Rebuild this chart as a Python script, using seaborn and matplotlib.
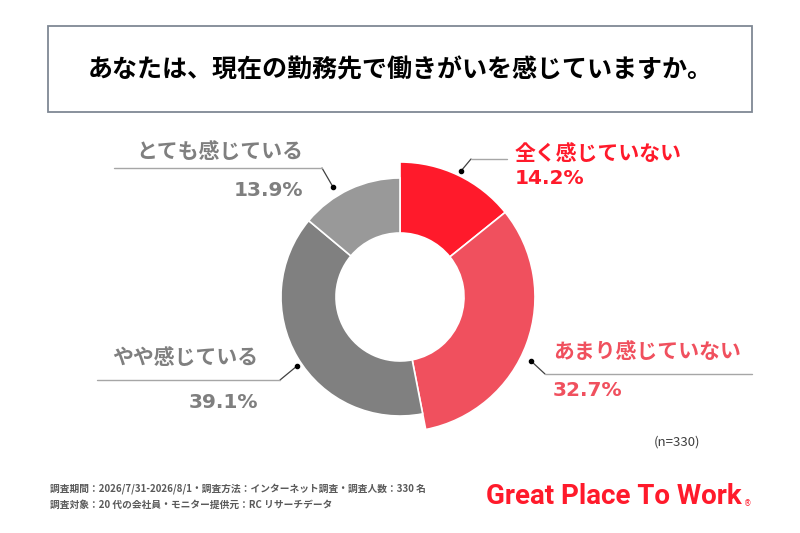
import matplotlib
matplotlib.use("Agg")
import matplotlib.pyplot as plt
import seaborn as sns
from matplotlib.patches import Rectangle

# data
categories = ["全く感じていない", "あまり感じていない", "やや感じている", "とても感じている"]
shares = [14.2, 32.7, 39.1, 13.9]
pct_labels = ["14.2%", "32.7%", "39.1%", "13.9%"]
title = "あなたは、現在の勤務先で働きがいを感じていますか。"
sample_note = "(n=330)"
footnotes = [
    "調査期間：2026/7/31-2026/8/1・調査方法：インターネット調査・調査人数：330 名",
    "調査対象：20 代の会社員・モニター提供元：RC リサーチデータ",
]
logo = "Great Place To Work"

sns.set_theme(style="white")
plt.rcParams['font.family'] = ['Noto Sans CJK JP', 'DejaVu Sans']

W, H = 800, 533
wedge_colors = ['#FF1A2B', '#F0505E', '#808080', '#999999']
text_colors = ['#FF1A2B', '#F0505E', '#7F7F7F', '#7F7F7F']

fig = plt.figure(figsize=(8, 5.33), dpi=100)
ax = fig.add_axes([0, 0, 1, 1])

def Y(y):
    return H - y

# donut: red wedges stand out further than gray ones
cx, cy = 400, Y(297)
wedges, _ = ax.pie(shares, colors=wedge_colors, startangle=90, counterclock=False,
                   center=(cx, cy), radius=135, frame=True,
                   wedgeprops=dict(width=71, edgecolor='white', linewidth=1.2))
for w in wedges[2:]:
    w.set_radius(119)
    w.set_width(55)

ax.set_xlim(0, W)
ax.set_ylim(0, H)
ax.set_aspect('equal')
ax.set_axis_off()

# title box
ax.add_patch(Rectangle((48, Y(112)), 704, 86, fill=False, edgecolor='#7F8894', lw=1.3))
ax.text(400, Y(70), title, ha='center', va='center', fontsize=18, fontweight='bold', color='black')

# leader lines: dot -> elbow -> end
leaders = [
    [(461, 171), (471, 159), (507, 159)],
    [(531, 361), (545, 374), (752, 374)],
    [(297, 366), (280, 380), (97, 380)],
    [(333, 187), (322, 168), (114, 168)],
]
label_pos = [((515, 153), (515, 178), 'left'),
             ((553, 352), (553, 391), 'left'),
             ((258, 358), (258, 403), 'right'),
             ((303, 152), (303, 190), 'right')]

for i, cat in enumerate(categories):
    pts = leaders[i]
    ax.plot([pts[0][0], pts[1][0]], [Y(pts[0][1]), Y(pts[1][1])], color='#404040', lw=0.9)
    ax.plot([pts[1][0], pts[2][0]], [Y(pts[1][1]), Y(pts[2][1])], color='#A6A6A6', lw=1.0)
    ax.plot(pts[0][0], Y(pts[0][1]), 'o', color='black', ms=3)
    (tx, ty), (px, py), ha = label_pos[i]
    ax.text(tx, Y(ty), cat, ha=ha, va='center', fontsize=15, fontweight='bold', color=text_colors[i])
    ax.text(px, Y(py), pct_labels[i], ha=ha, va='center', fontsize=14.5, fontweight='bold',
            color=text_colors[i], family=['DejaVu Sans'])

ax.text(700, Y(442), sample_note, ha='right', va='center', fontsize=9.5, color='#404040')

for j, note in enumerate(footnotes):
    ax.text(50, Y(489 + j * 16), note, ha='left', va='center', fontsize=7,
            fontweight='bold', color='#595959')

ax.text(486, Y(497), logo, ha='left', va='center', fontsize=20, fontweight='bold',
        color='#FF1A2B', family=['Roboto', 'DejaVu Sans'])
ax.text(744, Y(504), "®", ha='left', va='center', fontsize=5.5, color='#FF1A2B',
        family=['DejaVu Sans'])

fig.savefig('out.png', dpi=100)
